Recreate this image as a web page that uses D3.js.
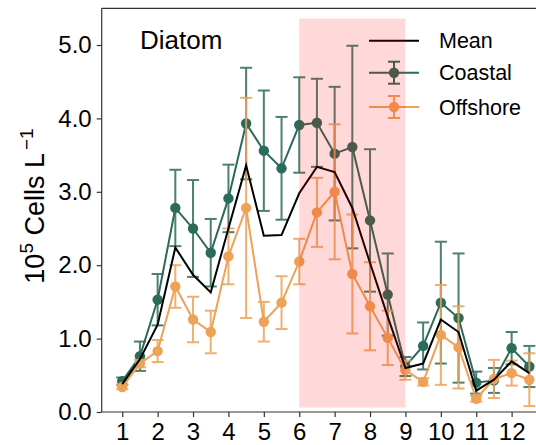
<!DOCTYPE html>
<html>
<head>
<meta charset="utf-8">
<script src="https://cdn.jsdelivr.net/npm/d3@7"></script>
<style>
  html, body { margin: 0; padding: 0; background: #fff; }
  svg { display: block; font-family: "Liberation Sans", Arial, sans-serif; }
</style>
</head>
<body>
<svg id="chart" width="536" height="445"></svg>
<script>
// ---- data ----
const months = [1,1.5,2,2.5,3,3.5,4,4.5,5,5.5,6,6.5,7,7.5,8,8.5,9,9.5,10,10.5,11,11.5,12,12.5];
const coastal    = [0.42,0.76,1.53,2.78,2.50,2.17,2.91,3.93,3.56,3.32,3.91,3.94,3.52,3.61,2.61,1.60,0.62,0.90,1.49,1.28,0.40,0.43,0.87,0.62];
const coastalErr = [0.05,0.20,0.35,0.52,0.66,0.46,0.46,0.76,0.82,0.70,0.65,0.60,0.91,1.38,0.97,0.56,0.13,0.32,0.83,0.88,0.15,0.17,0.22,0.28];
const offshore    = [0.34,0.66,0.83,1.71,1.26,1.09,2.12,2.78,1.23,1.49,2.05,2.72,3.00,1.88,1.44,1.01,0.57,0.41,1.05,0.88,0.18,0.45,0.53,0.44];
const offshoreErr = [0.03,0.05,0.15,0.29,0.31,0.29,0.38,1.50,0.27,0.36,0.31,0.47,0.92,0.81,0.60,0.37,0.13,0.05,0.68,0.56,0.04,0.26,0.17,0.36];
const meanVals = [0.38,0.72,1.19,2.24,1.87,1.63,2.50,3.36,2.40,2.41,2.98,3.34,3.27,2.78,2.03,1.30,0.60,0.66,1.26,1.09,0.29,0.44,0.69,0.53];
const xTicks = [1,2,3,4,5,6,7,8,9,10,11,12];
const yTicks = [0,1,2,3,4,5];
const shadeX = [6, 9];
const shadeY = [0.06, 5.36];
const seriesNames = ["Mean", "Coastal", "Offshore"];
const title = "Diatom";

// ---- layout ----
const colCoastal = "#2c6a5a";
const colOffshore = "#eea257";
const svg = d3.select("#chart");
const mLeft = 101.7, mTop = 8.3, mBottom = 412;
const x = d3.scaleLinear().domain([0.42, 13.0]).range([mLeft, mLeft + 12.58 * 35.4]);
const y = d3.scaleLinear().domain([0, 5.5]).range([mBottom, mTop]);

// ---- series ----
const line = d3.line().x(d => x(d[0])).y(d => y(d[1]));
function drawSeries(vals, errs, color) {
  const g = svg.append("g");
  const pts = months.map((m, i) => [m, vals[i], errs[i]]);
  g.append("path").datum(pts).attr("d", line)
    .attr("fill", "none").attr("stroke", color).attr("stroke-width", 2);
  const eb = g.selectAll("g.eb").data(pts).enter().append("g")
    .attr("stroke", color).attr("stroke-width", 2).attr("opacity", 0.85);
  eb.append("line").attr("x1", d => x(d[0])).attr("x2", d => x(d[0]))
    .attr("y1", d => y(d[1] - d[2])).attr("y2", d => y(d[1] + d[2]));
  eb.append("line").attr("x1", d => x(d[0]) - 6).attr("x2", d => x(d[0]) + 6)
    .attr("y1", d => y(d[1] + d[2])).attr("y2", d => y(d[1] + d[2]));
  eb.append("line").attr("x1", d => x(d[0]) - 6).attr("x2", d => x(d[0]) + 6)
    .attr("y1", d => y(d[1] - d[2])).attr("y2", d => y(d[1] - d[2]));
  g.selectAll("circle").data(pts).enter().append("circle")
    .attr("cx", d => x(d[0])).attr("cy", d => y(d[1])).attr("r", 5.2).attr("fill", color);
}
drawSeries(coastal, coastalErr, colCoastal);
drawSeries(offshore, offshoreErr, colOffshore);
svg.append("path").datum(months.map((m, i) => [m, meanVals[i]])).attr("d", line)
  .attr("fill", "none").attr("stroke", "#000").attr("stroke-width", 2);

// ---- legend ----
const lg = svg.append("g");
const lx0 = 369, lx1 = 419, lxm = 394, ltx = 439;
const lys = [40.7, 72.7, 107];
lg.append("line").attr("x1", lx0).attr("x2", lx1).attr("y1", lys[0]).attr("y2", lys[0])
  .attr("stroke", "#000").attr("stroke-width", 2);
[[colCoastal, lys[1]], [colOffshore, lys[2]]].forEach(([c, yy]) => {
  lg.append("line").attr("x1", lx0).attr("x2", lx1).attr("y1", yy).attr("y2", yy).attr("stroke", c).attr("stroke-width", 2);
  lg.append("line").attr("x1", lxm).attr("x2", lxm).attr("y1", yy - 11).attr("y2", yy + 11).attr("stroke", c).attr("stroke-width", 2);
  lg.append("line").attr("x1", lxm - 6).attr("x2", lxm + 6).attr("y1", yy - 11).attr("y2", yy - 11).attr("stroke", c).attr("stroke-width", 2);
  lg.append("line").attr("x1", lxm - 6).attr("x2", lxm + 6).attr("y1", yy + 11).attr("y2", yy + 11).attr("stroke", c).attr("stroke-width", 2);
  lg.append("circle").attr("cx", lxm).attr("cy", yy).attr("r", 5.2).attr("fill", c);
});
seriesNames.forEach((n, i) => {
  lg.append("text").attr("x", ltx).attr("y", lys[i] + 7.5).attr("font-size", 21.5).attr("fill", "#000").text(n);
});

// ---- shaded period (drawn over, translucent red) ----
svg.append("rect")
  .attr("x", x(shadeX[0])).attr("width", x(shadeX[1]) - x(shadeX[0]))
  .attr("y", y(shadeY[1])).attr("height", y(shadeY[0]) - y(shadeY[1]))
  .attr("fill", "red").attr("fill-opacity", 0.15);

// ---- axes ----
const xAxis = svg.append("g").attr("transform", `translate(0,${mBottom})`)
  .call(d3.axisBottom(x).tickValues(xTicks).tickFormat(d3.format("d")).tickSize(5).tickPadding(6));
const yAxis = svg.append("g").attr("transform", `translate(${mLeft},0)`)
  .call(d3.axisLeft(y).tickValues(yTicks).tickFormat(d3.format(".1f")).tickSize(5).tickPadding(5));
[xAxis, yAxis].forEach(a => {
  a.select(".domain").attr("stroke", "#333").attr("stroke-width", 1.2);
  a.selectAll(".tick line").attr("stroke", "#333").attr("stroke-width", 1.2);
  a.selectAll(".tick text").attr("font-size", 24).attr("fill", "#000")
    .attr("font-family", "Liberation Sans, Arial, sans-serif");
});
xAxis.select(".domain").attr("d", `M${mLeft},0H${x.range()[1]}`);
yAxis.select(".domain").attr("d", `M0,${mBottom}V${mTop}`);
svg.append("line").attr("x1", mLeft).attr("x2", x.range()[1]).attr("y1", mTop).attr("y2", mTop)
  .attr("stroke", "#333").attr("stroke-width", 1.2);

// ---- titles ----
svg.append("text").attr("x", 140).attr("y", 49.3).attr("font-size", 26).attr("fill", "#000").text(title);
const yl = svg.append("text").attr("transform", "translate(44,206) rotate(-90)")
  .attr("text-anchor", "middle").attr("font-size", 27).attr("fill", "#000");
yl.append("tspan").text("10");
yl.append("tspan").attr("font-size", 19).attr("dy", -11).text("5");
yl.append("tspan").attr("dy", 11).text(" Cells L");
yl.append("tspan").attr("font-size", 19).attr("dy", -11).attr("dx", 3).text("\u22121");
</script>
</body>
</html>
